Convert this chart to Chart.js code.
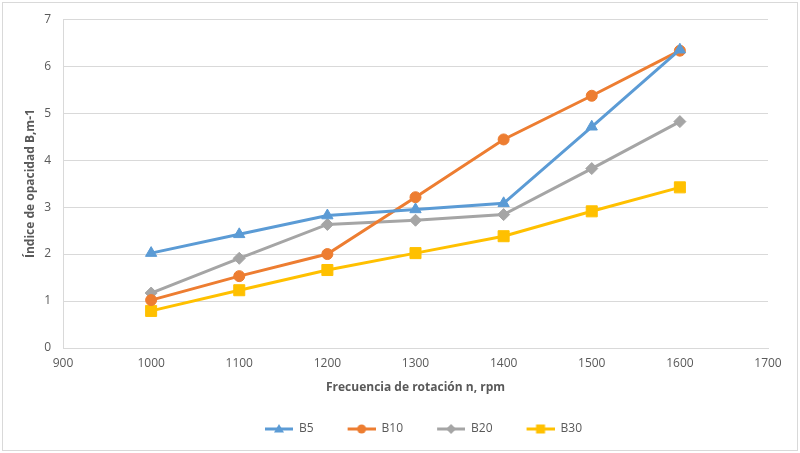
<!DOCTYPE html>
<html>
<head>
<meta charset="utf-8">
<script src="https://cdn.jsdelivr.net/npm/chart.js@4/dist/chart.umd.min.js"></script>
<style>
  html, body { margin: 0; padding: 0; background: #fff; }
  #wrap { width: 800px; height: 453px; }
</style>
</head>
<body>
<div id="wrap"><canvas id="chart" width="800" height="453"></canvas></div>
<script>
// Data
const rpm = [1000, 1100, 1200, 1300, 1400, 1500, 1600];
const b5 = [2.02, 2.42, 2.82, 2.95, 3.08, 4.71, 6.35];
const b10 = [1.02, 1.53, 2.0, 3.21, 4.44, 5.37, 6.33];
const b20 = [1.17, 1.91, 2.63, 2.72, 2.84, 3.82, 4.82];
const b30 = [0.79, 1.23, 1.66, 2.02, 2.38, 2.91, 3.42];

const seriesNames = ['B5', 'B10', 'B20', 'B30'];
const seriesColors = ['#5B9BD5', '#ED7D31', '#A5A5A5', '#FFC000'];
const seriesMarkers = ['triangle', 'circle', 'rectRot', 'rect'];
const seriesRadius = [6.5, 5.5, 6, 7.8];

const textColor = '#595959';
const gridColor = '#d9d9d9';
const fontFamily = "'Open Sans', 'DejaVu Sans', sans-serif";

function toPoints(vals) {
  return vals.map((v, i) => ({ x: rpm[i], y: v }));
}

// legend swatch: short line with the marker in the middle (Excel style)
function legendSwatch(color, marker) {
  const c = document.createElement('canvas');
  c.width = 52;
  c.height = 14;
  const ctx = c.getContext('2d');
  const x0 = 24, x1 = 52, cy = 7, cx = 38;
  ctx.strokeStyle = color;
  ctx.fillStyle = color;
  ctx.lineWidth = 3;
  ctx.beginPath();
  ctx.moveTo(x0, cy);
  ctx.lineTo(x1, cy);
  ctx.stroke();
  ctx.beginPath();
  if (marker === 'triangle') {
    ctx.moveTo(cx, cy - 5);
    ctx.lineTo(cx + 5, cy + 3.5);
    ctx.lineTo(cx - 5, cy + 3.5);
    ctx.closePath();
  } else if (marker === 'circle') {
    ctx.arc(cx, cy, 4.5, 0, Math.PI * 2);
  } else if (marker === 'rectRot') {
    ctx.moveTo(cx, cy - 5);
    ctx.lineTo(cx + 5, cy);
    ctx.lineTo(cx, cy + 5);
    ctx.lineTo(cx - 5, cy);
    ctx.closePath();
  } else {
    ctx.rect(cx - 4.5, cy - 4.5, 9, 9);
  }
  ctx.fill();
  return c;
}

const seriesValues = [b5, b10, b20, b30];
const datasets = seriesNames.map((name, i) => ({
  label: name,
  data: toPoints(seriesValues[i]),
  showLine: true,
  borderColor: seriesColors[i],
  backgroundColor: seriesColors[i],
  borderWidth: 3,
  pointStyle: seriesMarkers[i],
  pointRadius: seriesRadius[i],
  pointBorderWidth: 1,
  pointBackgroundColor: seriesColors[i],
  pointBorderColor: seriesColors[i],
  tension: 0
}));

const swatches = seriesNames.map((n, i) => legendSwatch(seriesColors[i], seriesMarkers[i]));

// white background + outer frame
const framePlugin = {
  id: 'frame',
  beforeDraw(chart) {
    const ctx = chart.ctx;
    ctx.save();
    ctx.fillStyle = '#ffffff';
    ctx.fillRect(0, 0, chart.width, chart.height);
    ctx.restore();
  },
  afterDraw(chart) {
    const ctx = chart.ctx;
    ctx.save();
    ctx.strokeStyle = gridColor;
    ctx.lineWidth = 1;
    ctx.strokeRect(2.5, 2.5, 795, 448);
    ctx.restore();
  }
};

// nudge the legend to where Excel puts it
const legendShift = {
  id: 'legendShift',
  afterLayout(chart) {
    if (chart.legend) {
      chart.legend.left += 18;
      chart.legend.right += 18;
    }
  }
};

new Chart(document.getElementById('chart'), {
  type: 'scatter',
  data: { datasets: datasets },
  plugins: [framePlugin, legendShift],
  options: {
    responsive: false,
    animation: false,
    layout: { padding: { left: 19, right: 32, top: 16, bottom: 8 } },
    scales: {
      x: {
        type: 'linear',
        min: 900,
        max: 1700,
        ticks: {
          stepSize: 100,
          color: textColor,
          padding: 8,
          font: { family: fontFamily, size: 12 },
          callback: (v) => String(v)
        },
        grid: { display: false, drawTicks: false },
        border: { display: true, color: gridColor, width: 1 },
        title: {
          display: true,
          text: 'Frecuencia de rotación n, rpm',
          color: textColor,
          padding: { top: 4, bottom: 18 },
          font: { family: fontFamily, size: 12, weight: 'bold' }
        },
        afterFit(scale) { scale.height = 65; }
      },
      y: {
        min: 0,
        max: 7,
        ticks: {
          stepSize: 1,
          color: textColor,
          padding: 12,
          font: { family: fontFamily, size: 12 },
          callback: (v) => String(v)
        },
        grid: { color: gridColor, lineWidth: 1, drawTicks: false },
        border: { display: true, color: gridColor, width: 1 },
        title: {
          display: true,
          text: 'Índice de opacidad B,m-1',
          color: textColor,
          padding: { top: 4, bottom: 4 },
          font: { family: fontFamily, size: 12, weight: 'bold' }
        },
        afterFit(scale) { scale.width = 44; }
      }
    },
    plugins: {
      legend: {
        position: 'bottom',
        labels: {
          usePointStyle: true,
          pointStyleWidth: 52,
          boxHeight: 12,
          padding: 10,
          color: textColor,
          font: { family: fontFamily, size: 12 },
          generateLabels(chart) {
            return chart.data.datasets.map((ds, i) => ({
              text: ds.label,
              fillStyle: ds.borderColor,
              strokeStyle: ds.borderColor,
              lineWidth: 0,
              pointStyle: swatches[i],
              fontColor: textColor,
              hidden: false,
              datasetIndex: i
            }));
          }
        }
      },
      tooltip: { enabled: false }
    }
  }
});
</script>
</body>
</html>
